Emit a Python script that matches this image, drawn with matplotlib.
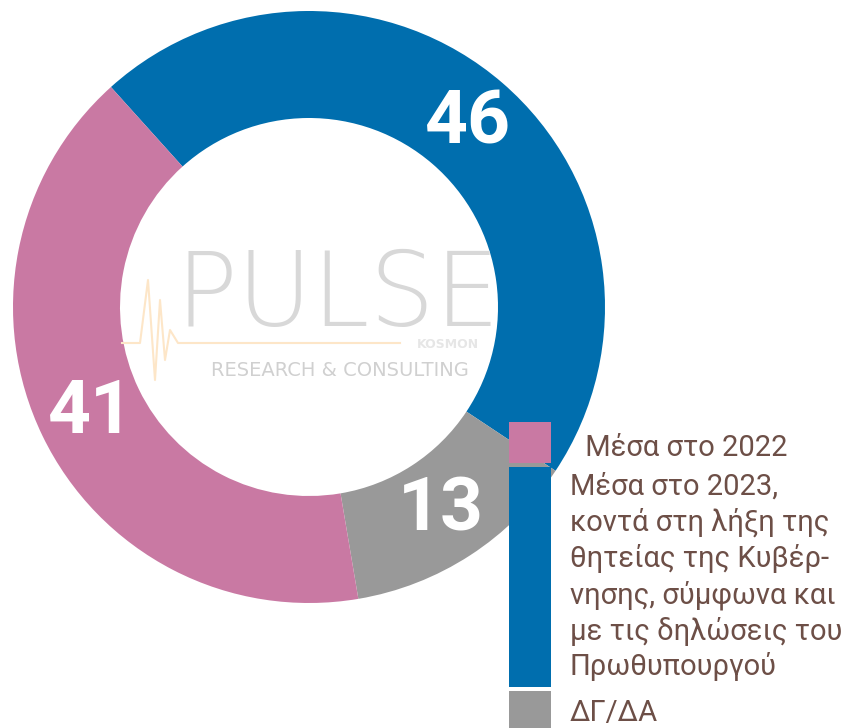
import matplotlib
matplotlib.use('Agg')
import matplotlib.pyplot as plt
from matplotlib.patches import Rectangle

# data
labels = ['Μέσα στο 2023, κοντά στη λήξη της θητείας της Κυβέρνησης', 'ΔΓ/ΔΑ', 'Μέσα στο 2022']
values = [46, 13, 41]
colors = ['#006eae', '#999999', '#c979a3']

legend_texts = [' Μέσα στο 2022',
                'Μέσα στο 2023,\nκοντά στη λήξη της\nθητείας της Κυβέρ-\nνησης, σύμφωνα και\nμε τις δηλώσεις του\nΠρωθυπουργού',
                'ΔΓ/ΔΑ']
legend_colors = ['#c979a3', '#006eae', '#999999']

W, H = 858, 728
fig = plt.figure(figsize=(W / 100, H / 100), dpi=100)
ax = fig.add_axes([0, 0, 1, 1])

narrow = ['Roboto', 'DejaVu Sans']

cx, cy, R = 309, H - 307, 296
wedges, texts, autotexts = ax.pie(
    values, colors=colors, startangle=132, counterclock=False,
    center=(cx, cy), radius=R,
    wedgeprops=dict(width=107, linewidth=0),
    autopct='%.0f', pctdistance=0.82,
    textprops=dict(color='white', fontsize=54, fontweight='bold', family=narrow))

ax.set_xlim(0, W)
ax.set_ylim(0, H)
ax.set_aspect('equal')
ax.axis('off')

# watermark in the middle
ax.text(338, H - 326, 'PULSE', ha='center', va='baseline', fontsize=74,
        color='#d8d8d8', family=['DejaVu Sans'], fontweight='ultralight')
ax.plot([122, 140, 148, 155, 160, 165, 170, 178, 400],
        [H - 343, H - 343, H - 280, H - 380, H - 300, H - 360, H - 330, H - 343, H - 343],
        color='#fde6c8', lw=1.5)
ax.text(448, H - 348, 'KOSMON', ha='center', va='baseline', fontsize=9,
        color='#e6e6e6', fontweight='bold')
ax.text(340, H - 370, 'RESEARCH & CONSULTING', ha='center', va='center', fontsize=14,
        color='#d0d0d0', family=['DejaVu Sans'])

# legend
txt_color = '#6d4f47'
boxes = [(422, 463), (467, 687), (691, 735)]
for (y0, y1), c in zip(boxes, legend_colors):
    ax.add_patch(Rectangle((509, H - y1), 42, y1 - y0, color=c, lw=0, zorder=3))

ax.text(578, H - 456, legend_texts[0], fontsize=21, color=txt_color,
        family=narrow, va='baseline')
ax.text(570, H - 473, legend_texts[1], fontsize=21, color=txt_color,
        family=narrow, va='top', linespacing=1.3)
ax.text(570, H - 721, legend_texts[2], fontsize=21, color=txt_color,
        family=narrow, va='baseline')

fig.savefig('out.png', dpi=100)
